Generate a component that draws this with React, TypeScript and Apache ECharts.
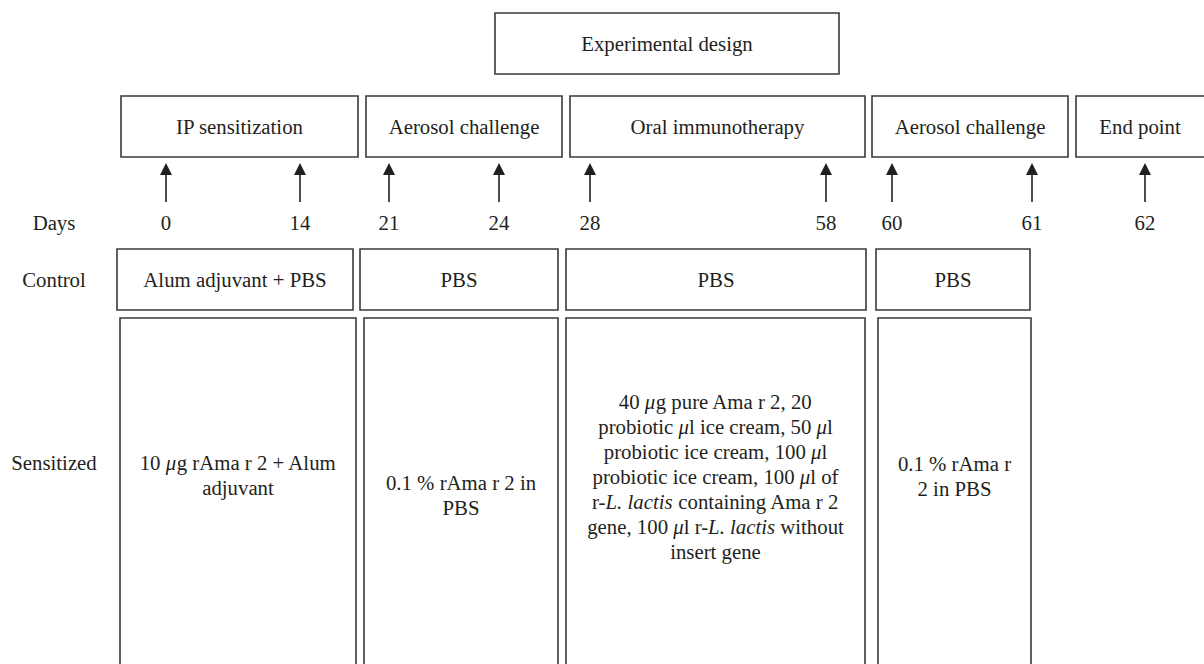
import React, { useEffect, useRef } from "react";
import * as echarts from "echarts";

// ---- content ----
const diagramTitle = "Experimental design";
const phaseLabels = ["IP sensitization", "Aerosol challenge", "Oral immunotherapy", "Aerosol challenge", "End point"];
const dayTicks = [0, 14, 21, 24, 28, 58, 60, 61, 62];
const rowLabels = ["Days", "Control", "Sensitized"];
const controlTreatments = ["Alum adjuvant + PBS", "PBS", "PBS", "PBS"];
const sensitizedTreatments = [
  "10 {i|μ}g rAma r 2 + Alum\nadjuvant",
  "0.1 % rAma r 2 in\nPBS",
  "40 {i|μ}g pure Ama r 2, 20\nprobiotic {i|μ}l ice cream, 50 {i|μ}l\nprobiotic ice cream, 100 {i|μ}l\nprobiotic ice cream, 100 {i|μ}l of\nr-{i|L. lactis} containing Ama r 2\ngene, 100 {i|μ}l r-{i|L. lactis} without\ninsert gene",
  "0.1 % rAma r\n2 in PBS",
];

// ---- layout (schematic positions) ----
const titleBox = { x0: 495, x1: 839, y0: 13, y1: 74 };
const phaseSpans = [[121, 358], [366, 562], [570, 865], [872, 1068], [1076, 1212]];
const phaseRow = { y0: 96, y1: 157 };
const arrowX = [166, 300, 389, 499, 590, 826, 892, 1032, 1145];
const arrowGeom = { tip: 163, base: 175, bottom: 202, half: 6 };
const daysY = 222;
const controlSpans = [[117, 353], [360, 558], [566, 866], [876, 1030]];
const controlRow = { y0: 249, y1: 310 };
const sensSpans = [[120, 356], [364, 558], [566, 865], [878, 1031]];
const sensRow = { y0: 318, y1: 700 };
const sensTextY = [475, 495, 476, 476];
const rowLabelX = 54;
const rowLabelY = [daysY, 279, 462];

const FONT = "'Liberation Serif', 'Times New Roman', serif";
const FS = 20.8;
const INK = "#231f20";
const BORDER = "#3a3a3a";

function textEl(text: string, x: number, y: number, extra: any = {}) {
  return {
    type: "text",
    x,
    y,
    silent: true,
    style: {
      text,
      fill: INK,
      fontFamily: FONT,
      fontSize: FS,
      lineHeight: 25,
      align: "center",
      verticalAlign: "middle",
      textAlign: "center",
      textVerticalAlign: "middle",
      rich: {
        i: { fontStyle: "italic", fontFamily: FONT, fontSize: FS, lineHeight: 25, fill: INK, align: "center" },
      },
      ...extra,
    },
  };
}

function rectEl(x0: number, y0: number, x1: number, y1: number) {
  return {
    type: "rect",
    silent: true,
    shape: { x: x0, y: y0, width: x1 - x0, height: y1 - y0 },
    style: { fill: "#ffffff", stroke: BORDER, lineWidth: 1.6 },
  };
}

export default function App() {
  const ref = useRef<HTMLDivElement>(null);
  useEffect(() => {
    document.body.style.margin = "0";
    if (!ref.current) return;
    const chart = echarts.init(ref.current, null, { renderer: "svg" });
    const els: any[] = [];

    // title
    els.push(rectEl(titleBox.x0, titleBox.y0, titleBox.x1, titleBox.y1));
    els.push(textEl(diagramTitle, (titleBox.x0 + titleBox.x1) / 2, (titleBox.y0 + titleBox.y1) / 2));

    // phases
    phaseLabels.forEach((lab, i) => {
      const [a, b] = phaseSpans[i];
      els.push(rectEl(a, phaseRow.y0, b, phaseRow.y1));
      const cx = i === phaseLabels.length - 1 ? (a + 1204) / 2 : (a + b) / 2;
      els.push(textEl(lab, cx, (phaseRow.y0 + phaseRow.y1) / 2));
    });

    // arrows + days
    dayTicks.forEach((d, i) => {
      const x = arrowX[i];
      els.push({
        type: "line",
        silent: true,
        shape: { x1: x, y1: arrowGeom.bottom, x2: x, y2: arrowGeom.base - 1 },
        style: { stroke: INK, lineWidth: 1.6 },
      });
      els.push({
        type: "polygon",
        silent: true,
        shape: {
          points: [
            [x - arrowGeom.half, arrowGeom.base],
            [x, arrowGeom.tip],
            [x + arrowGeom.half, arrowGeom.base],
          ],
        },
        style: { fill: INK },
      });
      els.push(textEl(String(d), x, daysY));
    });

    // row labels
    rowLabels.forEach((lab, i) => {
      els.push(textEl(lab, rowLabelX, rowLabelY[i]));
    });

    // control row
    controlTreatments.forEach((t, i) => {
      const [a, b] = controlSpans[i];
      els.push(rectEl(a, controlRow.y0, b, controlRow.y1));
      els.push(textEl(t, (a + b) / 2, (controlRow.y0 + controlRow.y1) / 2));
    });

    // sensitized row
    sensitizedTreatments.forEach((t, i) => {
      const [a, b] = sensSpans[i];
      els.push(rectEl(a, sensRow.y0, b, sensRow.y1));
      els.push(textEl(t, (a + b) / 2, sensTextY[i]));
    });

    chart.setOption({ animation: false, backgroundColor: "#ffffff", graphic: { elements: els } });
    return () => chart.dispose();
  }, []);
  return <div ref={ref} style={{ width: 1204, height: 664 }} />;
}
